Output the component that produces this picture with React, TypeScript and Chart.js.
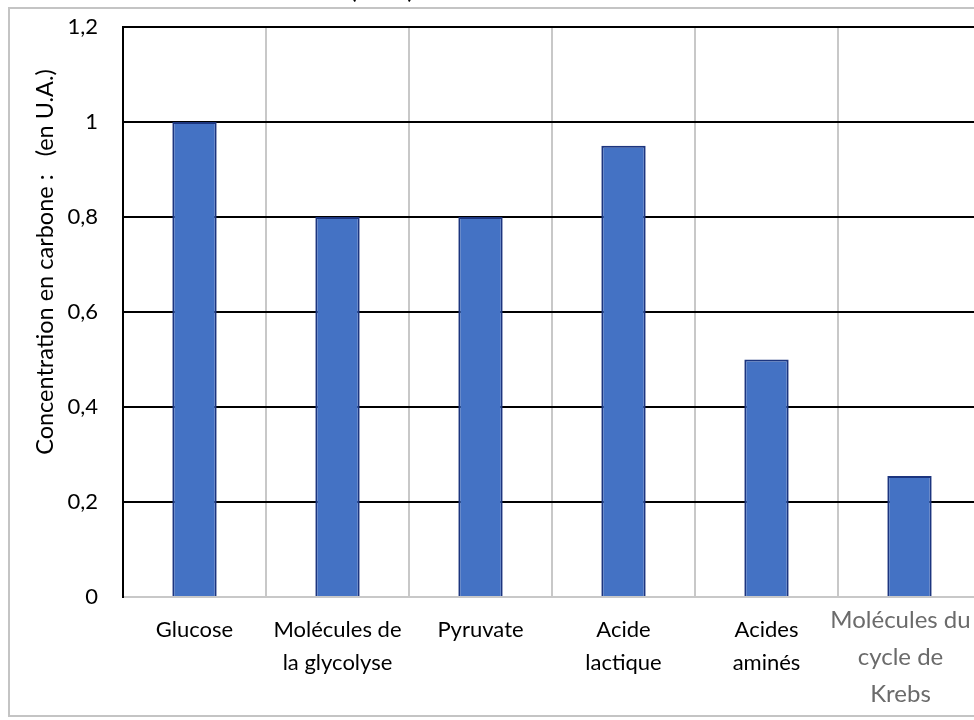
import React, { useEffect, useRef } from "react";
import { Chart, registerables } from "chart.js";

Chart.register(...registerables);

const categories: string[][] = [
  ["Glucose"],
  ["Molécules de", "la glycolyse"],
  ["Pyruvate"],
  ["Acide", "lactique"],
  ["Acides", "aminés"],
  ["Molécules du", "cycle de", "Krebs"],
];
const values: number[] = [1, 0.8, 0.8, 0.95, 0.5, 0.255];
const yTickLabels: string[] = ["0", "0,2", "0,4", "0,6", "0,8", "1", "1,2"];
const yTitle = "Concentration en carbone :   (en U.A.)";
const topTitle = "(U.A.)";

const FONT = "Lato, 'Open Sans', sans-serif";
const SHIFT = 20; // canvas is shifted up by this many px

const customText = {
  id: "customText",
  afterDraw(chart: any) {
    const { ctx } = chart;
    const x = chart.scales.x;
    ctx.save();
    // top (cropped) title
    ctx.font = `27px ${FONT}`;
    ctx.fillStyle = "#000";
    ctx.textAlign = "center";
    ctx.textBaseline = "alphabetic";
    ctx.fillText(topTitle, 382, SHIFT - 2);

    // y-axis title
    ctx.save();
    ctx.translate(45, 262 + SHIFT);
    ctx.rotate(-Math.PI / 2);
    ctx.font = `23.5px ${FONT}`;
    ctx.fillStyle = "#000";
    ctx.textBaseline = "middle";
    ctx.textAlign = "center";
    ctx.fillText(yTitle, 0, 0);
    ctx.restore();

    // category labels
    categories.forEach((lines, i) => {
      const cx = x.getPixelForValue(i);
      const last = i === categories.length - 1;
      const size = last ? 24 : 22;
      const lh = last ? 37 : 33;
      const y0 = (last ? 620 : 630) + SHIFT;
      const dx = last ? -9 : 0;
      ctx.font = `${size}px ${FONT}`;
      ctx.fillStyle = last ? "#6b6b6b" : "#000";
      ctx.textAlign = "center";
      ctx.textBaseline = "middle";
      lines.forEach((ln, j) => ctx.fillText(ln, cx + dx, y0 + j * lh));
    });
    ctx.restore();
  },
};

export default function App() {
  const ref = useRef<HTMLCanvasElement | null>(null);
  useEffect(() => {
    if (!ref.current) return;
    const chart = new Chart(ref.current, {
      type: "bar",
      data: {
        labels: categories.map((c) => c.join(" ")),
        datasets: [
          {
            data: values,
            backgroundColor: "#4472C4",
            borderColor: "#1c357f",
            borderWidth: 2,
            barPercentage: 0.31,
            categoryPercentage: 1,
          },
        ],
      },
      options: {
        responsive: false,
        animation: false,
        devicePixelRatio: 1,
        layout: { padding: { left: 23, top: 27 + SHIFT, right: 19, bottom: 0 } },
        plugins: { legend: { display: false }, tooltip: { enabled: false }, title: { display: false } },
        scales: {
          x: {
            type: "category",
            afterFit: (s: any) => {
              s.height = 123;
            },
            ticks: { display: false },
            grid: { color: "#c8c8c8", lineWidth: 2, offset: true, drawTicks: false },
            border: { color: "#c8c8c8", width: 2 },
          },
          y: {
            min: 0,
            max: 1.2,
            afterFit: (s: any) => {
              s.width = 100;
            },
            ticks: {
              stepSize: 0.2,
              padding: 25,
              color: "#000",
              font: { family: FONT, size: 22 },
              callback: (_v: any, i: number) => yTickLabels[i],
            },
            grid: {
              drawTicks: false,
              lineWidth: 2,
              color: (c: any) => (c.tick && c.tick.value === 0 ? "#c8c8c8" : "#000"),
            },
            border: { color: "#000", width: 2 },
          },
        },
      },
      plugins: [customText],
    });
    return () => chart.destroy();
  }, []);

  return (
    <div
      style={{
        position: "fixed",
        left: 0,
        top: 0,
        width: 974,
        height: 720,
        overflow: "hidden",
        background: "#fff",
      }}
    >
      <div
        style={{
          position: "absolute",
          left: 8,
          top: 7,
          width: 1100,
          height: 710,
          border: "2px solid #c4c4c4",
          boxSizing: "border-box",
        }}
      />
      <canvas
        ref={ref}
        width={1000}
        height={740}
        style={{ position: "absolute", left: 0, top: -SHIFT, width: 1000, height: 740 }}
      />
    </div>
  );
}
